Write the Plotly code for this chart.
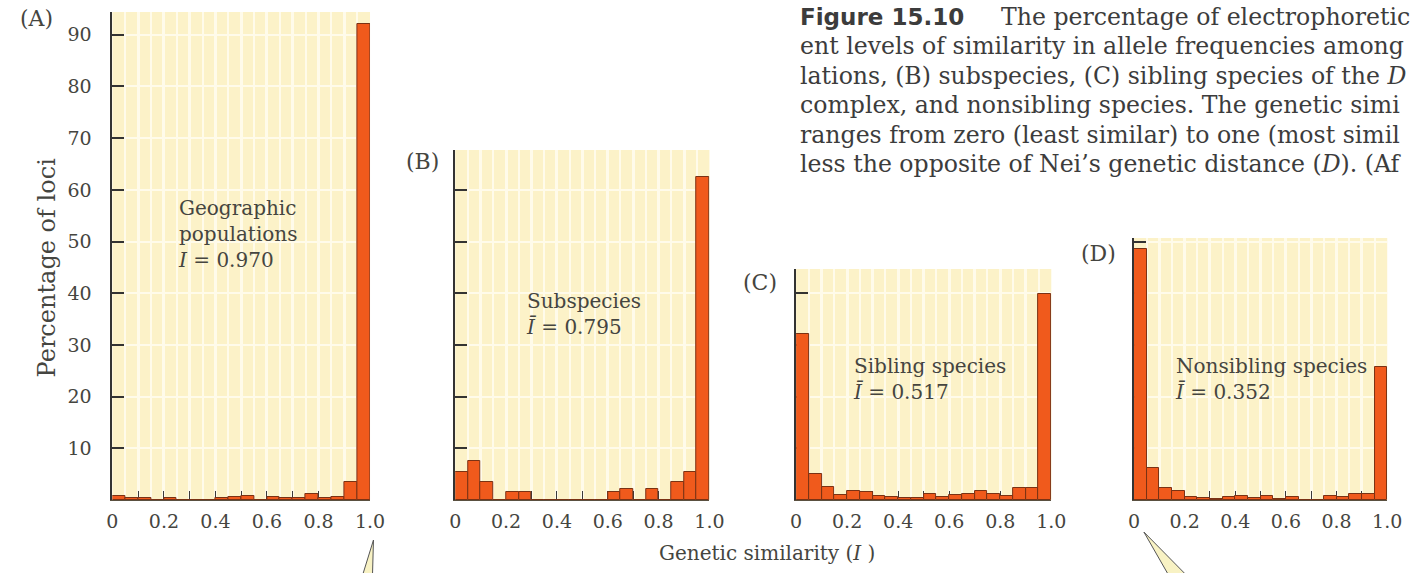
import plotly.graph_objects as go

# ---------------- data ----------------
bin_centers = [round(0.025 + 0.05 * i, 3) for i in range(20)]

geographic = [0.7, 0.4, 0.3, 0, 0.3, 0, 0, 0, 0.3, 0.5,
              0.8, 0, 0.6, 0.3, 0.3, 1.2, 0.3, 0.5, 3.4, 92.1]
subspecies = [5.4, 7.6, 3.5, 0, 1.5, 1.6, 0, 0, 0, 0,
              0, 0, 1.5, 2.1, 0, 2.1, 0, 3.5, 5.4, 62.4]
sibling = [32.1, 5.1, 2.6, 1.0, 1.8, 1.5, 0.8, 0.5, 0.3, 0.3,
           1.2, 0.5, 1.0, 1.2, 1.8, 1.2, 0.8, 2.3, 2.3, 39.9]
nonsibling = [48.6, 6.2, 2.4, 1.7, 0.6, 0.3, 0.2, 0.5, 0.8, 0.3,
              0.8, 0.2, 0.6, 0, 0, 0.8, 0.5, 1.2, 1.2, 25.8]

series = [geographic, subspecies, sibling, nonsibling]
panel_letters = ["(A)", "(B)", "(C)", "(D)"]
panel_notes = ["Geographic<br>populations<br><i>I</i> = 0.970",
               "Subspecies<br><i>Ī</i> = 0.795",
               "Sibling species<br><i>Ī</i> = 0.517",
               "Nonsibling species<br><i>Ī</i> = 0.352"]
x_tickvals = [0, 0.1, 0.2, 0.3, 0.4, 0.5, 0.6, 0.7, 0.8, 0.9, 1.0]
x_ticktext = ["0", "", "0.2", "", "0.4", "", "0.6", "", "0.8", "", "1.0"]
y_tickvals_all = [10, 20, 30, 40, 50, 60, 70, 80, 90]

caption_head = "Figure 15.10"
caption_lines = [
    "The percentage of electrophoretic",
    "ent levels of similarity in allele frequencies among",
    "lations, (B) subspecies, (C) sibling species of the <i>D</i>",
    "complex, and nonsibling species. The genetic simi",
    "ranges from zero (least similar) to one (most simil",
    "less the opposite of Nei’s genetic distance (<i>D</i>). (Af",
]

# ---------------- layout geometry (pixels) ----------------
W, H = 1417, 573
BASE = 500.0          # baseline pixel row shared by all panels
PPU = 5.169           # pixels per percentage unit (shared scale)
panels = [
    dict(x0=108, x1=369.5, top=12, note=(0.245, 51.5), lab=(12, 18)),
    dict(x0=456, x1=714, top=150, note=(0.27, 36.0), lab=(404, 162)),
    dict(x0=802, x1=1061, top=269, note=(0.215, 23.4), lab=(746, 282)),
    dict(x0=1145, x1=1402, top=238, note=(0.155, 23.4), lab=(1089, 253)),
]

def px(x):
    return x / W

def py(y):
    return 1 - y / H

SERIF = "DejaVu Serif"
TXT = "#454540"
BAR = "#f05a1c"
BAR_EDGE = "#7a3214"
BG = "#fcf2c8"
GRID = "#fffbea"

fig = go.Figure()
annotations = []
layout = {}

for i, (vals, p) in enumerate(zip(series, panels)):
    n = "" if i == 0 else str(i + 1)
    ymax = (BASE - p["top"]) / PPU
    fig.add_trace(go.Bar(
        x=bin_centers, y=vals, width=0.05,
        marker=dict(color=BAR, line=dict(color=BAR_EDGE, width=1)),
        xaxis="x" + n, yaxis="y" + n, showlegend=False, hoverinfo="x+y",
    ))
    layout["xaxis" + n] = dict(
        domain=[px(p["x0"]), px(p["x1"])], anchor="y" + n,
        range=[0, 1], tickmode="array", tickvals=x_tickvals, ticktext=x_ticktext,
        ticks="inside", ticklen=9, tickwidth=1.3, tickcolor="#3a3a3a",
        showline=True, linecolor="#5a5040", linewidth=1,
        showgrid=True, gridcolor=GRID, gridwidth=2.5,
        minor=dict(tickmode="linear", tick0=0, dtick=0.05, showgrid=True,
                   gridcolor=GRID, gridwidth=1.5, ticks=""),
        tickfont=dict(family=SERIF, size=19, color=TXT),
        ticklabelstandoff=4, zeroline=False, fixedrange=True,
        layer="below traces",
    )
    layout["yaxis" + n] = dict(
        domain=[py(BASE), py(p["top"])], anchor="x" + n,
        range=[0, ymax], tickmode="array",
        tickvals=[v for v in y_tickvals_all if v < ymax],
        showticklabels=(i == 0),
        ticks="inside", ticklen=12, tickwidth=1.5, tickcolor="#333333",
        showline=True, linecolor="#333333", linewidth=1.8,
        showgrid=True, gridcolor=GRID, gridwidth=1.5,
        tickfont=dict(family=SERIF, size=19, color=TXT),
        ticklabelstandoff=15, zeroline=False, fixedrange=True,
        layer="below traces",
    )
    # in-panel description
    annotations.append(dict(
        xref="x" + n, yref="y" + n, x=p["note"][0], y=p["note"][1],
        text=panel_notes[i], showarrow=False, xanchor="left", yanchor="middle",
        align="left", font=dict(family=SERIF, size=20, color=TXT),
    ))
    # panel letter
    annotations.append(dict(
        xref="paper", yref="paper", x=px(p["lab"][0]), y=py(p["lab"][1]),
        text=panel_letters[i], showarrow=False, xanchor="left", yanchor="middle",
        font=dict(family=SERIF, size=22, color=TXT),
    ))

# axis titles
annotations.append(dict(
    xref="paper", yref="paper", x=px(42), y=py(267), text="Percentage of loci",
    textangle=-90, showarrow=False, xanchor="center", yanchor="middle",
    font=dict(family=SERIF, size=24, color=TXT),
))
annotations.append(dict(
    xref="paper", yref="paper", x=px(772), y=py(553), text="Genetic similarity (<i>I</i> )",
    showarrow=False, xanchor="center", yanchor="middle",
    font=dict(family=SERIF, size=20, color=TXT),
))

# caption
annotations.append(dict(
    xref="paper", yref="paper", x=px(804), y=py(17), text="<b>" + caption_head + "</b>",
    showarrow=False, xanchor="left", yanchor="middle",
    font=dict(family="DejaVu Sans", size=23, color="#3c3c3c"),
))
for k, line in enumerate(caption_lines):
    annotations.append(dict(
        xref="paper", yref="paper",
        x=px(1008 if k == 0 else 804), y=py(17 + 29.4 * k),
        text=line, showarrow=False, xanchor="left", yanchor="middle",
        font=dict(family=SERIF, size=23.6, color="#3c3c3c"),
    ))

# callout pointer fragments at the bottom
def path(points):
    s = "M " + " L ".join(f"{px(x):.5f},{py(y):.5f}" for x, y in points) + " Z"
    return s

shapes = [
    dict(type="path", xref="paper", yref="paper",
         path=path([(362, 575), (373, 540), (372, 575)]),
         fillcolor="#f8f2c4", line=dict(color="#555555", width=1)),
    dict(type="path", xref="paper", yref="paper",
         path=path([(1180, 575), (1155, 532), (1198, 575)]),
         fillcolor="#f8f2c4", line=dict(color="#555555", width=1)),
]

fig.update_layout(
    width=W, height=H, margin=dict(l=0, r=0, t=0, b=0),
    paper_bgcolor="white", plot_bgcolor=BG,
    bargap=0, annotations=annotations, shapes=shapes, **layout,
)

fig.write_html("out.html", config={"displayModeBar": False})
